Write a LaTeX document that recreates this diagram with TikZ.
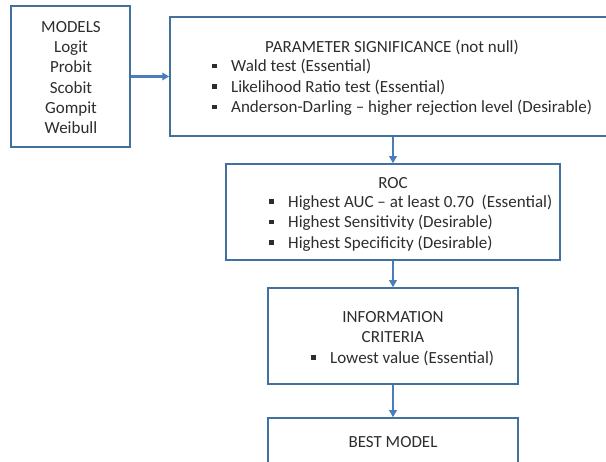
\documentclass[tikz,border=0pt]{standalone}
\usepackage{fontspec}
\setmainfont{Carlito}
\usetikzlibrary{arrows.meta, positioning}
\definecolor{boxblue}{RGB}{65,113,156}
\definecolor{arrowblue}{RGB}{74,126,187}
\definecolor{textgray}{RGB}{45,45,45}
\newcommand{\sqbul}{\makebox[19pt][l]{\rule[3.5pt]{4.5pt}{4.5pt}}}

\begin{document}
\begin{tikzpicture}[x=1pt,y=-1pt,
    box/.style={draw=boxblue,line width=1.5pt,inner sep=0pt},
    flow/.style={-{Triangle[length=7pt,width=7.5pt]},line width=2.2pt,arrowblue},
    txt/.style={font=\fontsize{17}{20.3}\selectfont,text=textgray,inner sep=0pt}]
    \useasboundingbox (0,0) rectangle (606,462);
    \clip (0,0) rectangle (606,462);

    % Models
    \node[box,minimum width=119pt,minimum height=141pt] (models) at (70.5,76.5) {};
    \node[txt,align=center] (modelstxt) at (71,77.5) {MODELS\\Logit\\Probit\\Scobit\\Gompit\\Weibull};

    % Parameter significance
    \node[box,minimum width=470pt,minimum height=119pt] (param) at (405,76.5) {};
    \node[txt] (paramtitle) at (392,47) {PARAMETER SIGNIFICANCE (not null)};
    \node[txt,align=left,anchor=west] (paramlist) at (212,87.5) {\sqbul Wald test (Essential)\\
        \sqbul Likelihood Ratio test (Essential)\\
        \sqbul Anderson-Darling -- higher rejection level (Desirable)};

    % ROC
    \node[box,minimum width=334pt,minimum height=96pt] (roc) at (393,212) {};
    \node[txt] (roctitle) at (393,183) {ROC};
    \node[txt,align=left,anchor=west] (roclist) at (269,223) {\sqbul Highest AUC -- at least 0.70~ (Essential)\\
        \sqbul Highest Sensitivity (Desirable)\\
        \sqbul Highest Specificity (Desirable)};

    % Information criteria
    \node[box,minimum width=250pt,minimum height=96pt] (info) at (393,336) {};
    \node[txt,align=center] (infotitle) at (393,327) {INFORMATION\\CRITERIA};
    \node[txt,anchor=west] (infolist) at (311,358) {\sqbul Lowest value (Essential)};

    % Best model
    \node[box,minimum width=250pt,minimum height=96pt] (best) at (393,466) {};
    \node[txt] (besttxt) at (393,442) {BEST MODEL};

    % Arrows
    \draw[flow] (models.east) -- (param.west);
    \draw[flow] (roc.north |- param.south) -- (roc.north);
    \draw[flow] (roc.south -| info.north) -- (info.north);
    \draw[flow] (info.south) -- (best.north);
\end{tikzpicture}
\end{document}
